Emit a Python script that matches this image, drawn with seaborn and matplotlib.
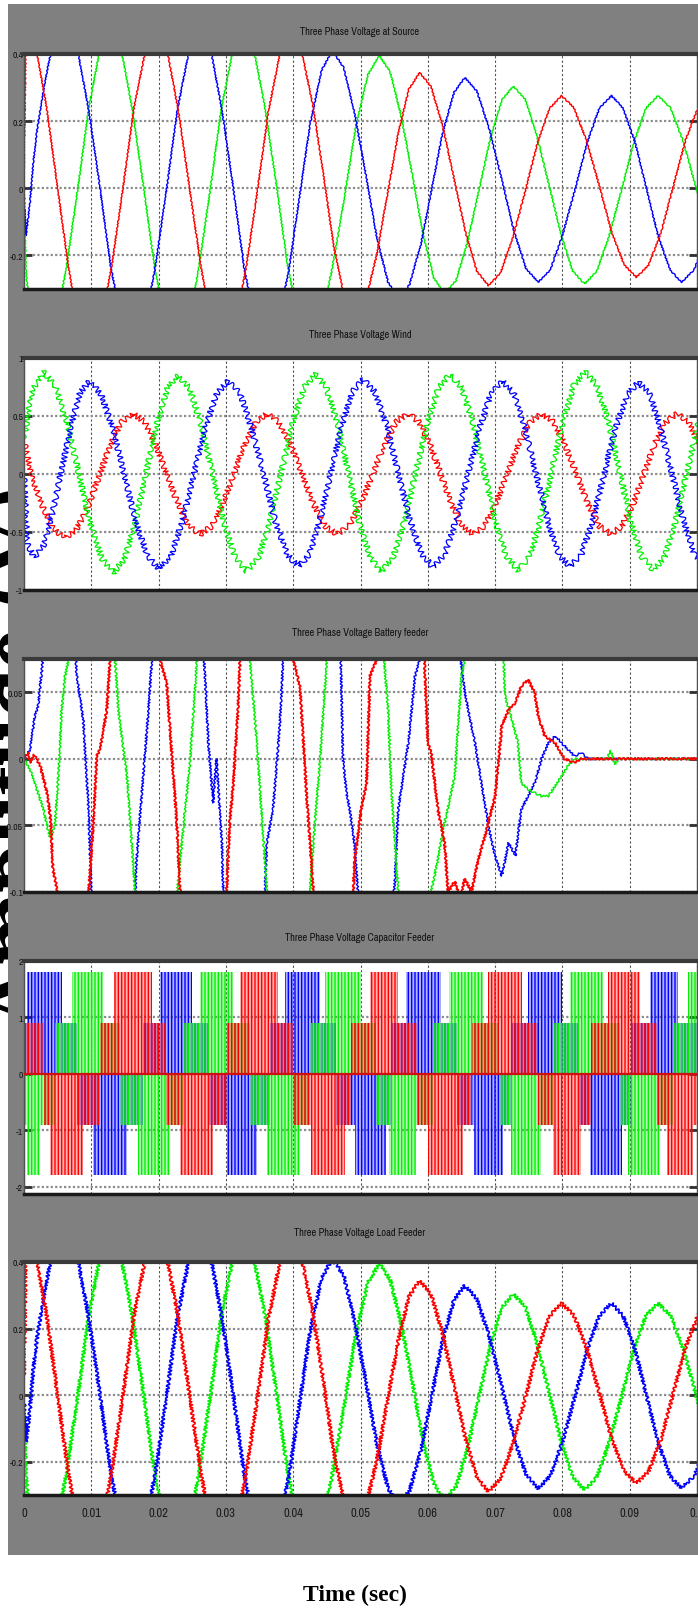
import numpy as np
import pandas as pd
import matplotlib
matplotlib.use("Agg")
import matplotlib.pyplot as plt
import seaborn as sns
from matplotlib.patches import Rectangle
from matplotlib.colors import to_rgba
from matplotlib import font_manager as fm

# ---------------- data ----------------
# Panel 1: Three Phase Voltage at Source (also Load Feeder, which reads the same)
src_red_t = [0, 0.0003, 0.0019, 0.0034, 0.005, 0.0066, 0.0081, 0.0097,
             0.0114, 0.013, 0.0147, 0.0163, 0.018, 0.0196,
             0.0213, 0.0229, 0.0246, 0.0263, 0.0279, 0.0296,
             0.0313, 0.033, 0.0347, 0.0363, 0.038, 0.0397,
             0.0413, 0.0429, 0.0445, 0.046, 0.0476, 0.0492,
             0.0508, 0.0524, 0.054, 0.0556, 0.0572, 0.0588,
             0.0605, 0.0622, 0.0639, 0.0656, 0.0673, 0.069,
             0.0708, 0.0726, 0.0745, 0.0763, 0.0781, 0.0799,
             0.0817, 0.0836, 0.0855, 0.0873, 0.0892, 0.091,
             0.0928, 0.0947, 0.0965, 0.0983, 0.1002, 0.102]
src_red_v = [0.06, 0.47, 0.407, 0.235, 0, -0.235, -0.407, -0.47,
             -0.407, -0.235, 0, 0.235, 0.407, 0.47,
             0.407, 0.235, 0, -0.235, -0.407, -0.47,
             -0.408, -0.238, -0.005, 0.228, 0.398, 0.46,
             0.404, 0.25, 0.04, -0.17, -0.324, -0.38,
             -0.331, -0.199, -0.018, 0.164, 0.296, 0.345,
             0.302, 0.186, 0.028, -0.131, -0.247, -0.29,
             -0.252, -0.149, -0.007, 0.135, 0.238, 0.276,
             0.240, 0.141, 0.006, -0.130, -0.229, -0.265,
             -0.229, -0.129, 0.008, 0.144, 0.243, 0.28]
src_blue_t = [0, 0.0003, 0.0009, 0.0014, 0.0019, 0.0026, 0.0031, 0.0039, 0.0052, 0.0063,
              0.008, 0.0096, 0.0113, 0.0129, 0.0146, 0.0162,
              0.0179, 0.0195, 0.0212, 0.0228, 0.0245, 0.0261,
              0.0278, 0.0294, 0.0311, 0.0327, 0.0344, 0.036,
              0.0376, 0.0393, 0.0409, 0.0425, 0.0442, 0.0458,
              0.0475, 0.0491, 0.0508, 0.0524, 0.0541, 0.0557,
              0.0573, 0.059, 0.0606, 0.0622, 0.0639, 0.0655,
              0.0673, 0.0691, 0.071, 0.0728, 0.0746, 0.0764,
              0.0782, 0.08, 0.0819, 0.0837, 0.0855, 0.0873,
              0.089, 0.0908, 0.0925, 0.0942, 0.096, 0.0977,
              0.0996, 0.1015]
src_blue_v = [-0.02, -0.14, -0.04, 0.08, 0.167, 0.256, 0.316, 0.395, 0.46, 0.47,
              0.407, 0.235, 0, -0.235, -0.407, -0.47,
              -0.407, -0.235, 0, 0.235, 0.407, 0.47,
              0.407, 0.235, 0, -0.235, -0.407, -0.47,
              -0.411, -0.25, -0.03, 0.19, 0.351, 0.41,
              0.36, 0.225, 0.04, -0.145, -0.28, -0.33,
              -0.286, -0.165, 0, 0.165, 0.286, 0.33,
              0.289, 0.178, 0.025, -0.128, -0.239, -0.28,
              -0.243, -0.141, -0.002, 0.137, 0.239, 0.276,
              0.239, 0.137, -0.002, -0.141, -0.243, -0.28,
              -0.242, -0.14]
src_green_t = [0, 0.0003, 0.0006, 0.0031,
               0.0047, 0.0063, 0.008, 0.0096, 0.0112, 0.0128,
               0.0145, 0.0161, 0.0178, 0.0194, 0.0211, 0.0227,
               0.0244, 0.026, 0.0277, 0.0293, 0.031, 0.0326,
               0.0342, 0.0358, 0.0375, 0.0391, 0.0407, 0.0423,
               0.0441, 0.0458, 0.0476, 0.0493, 0.0511, 0.0528,
               0.0544, 0.056, 0.0577, 0.0593, 0.0609, 0.0625,
               0.0642, 0.0659, 0.0676, 0.0693, 0.071, 0.0727,
               0.0745, 0.0762, 0.078, 0.0798, 0.0815, 0.0833,
               0.0851, 0.0869, 0.0888, 0.0906, 0.0924, 0.0942,
               0.0961, 0.098, 0.0999, 0.1017]
src_green_v = [-0.02, -0.25, -0.31, -0.47,
               -0.407, -0.235, 0, 0.235, 0.407, 0.47,
               0.407, 0.235, 0, -0.235, -0.407, -0.47,
               -0.407, -0.235, 0, 0.235, 0.407, 0.47,
               0.408, 0.24, 0.01, -0.22, -0.388, -0.45,
               -0.393, -0.239, -0.028, 0.184, 0.338, 0.395,
               0.347, 0.218, 0.04, -0.138, -0.267, -0.315,
               -0.274, -0.16, -0.006, 0.149, 0.263, 0.304,
               0.265, 0.157, 0.01, -0.138, -0.246, -0.285,
               -0.247, -0.145, -0.005, 0.136, 0.238, 0.276,
               0.239, 0.137, -0.002, -0.141]

# Panel 2: Three Phase Voltage Wind
wind_green_t = [0, 0.0012, 0.0029,
                0.0046, 0.0064, 0.0081, 0.0098, 0.0116, 0.0133,
                0.0149, 0.0165, 0.0181, 0.0197, 0.0213, 0.0229,
                0.0246, 0.0263, 0.028, 0.0297, 0.0314, 0.0331,
                0.0348, 0.0365, 0.0382, 0.0399, 0.0416, 0.0433,
                0.0449, 0.0466, 0.0482, 0.0498, 0.0515, 0.0531,
                0.0548, 0.0565, 0.0582, 0.0599, 0.0616, 0.0633,
                0.065, 0.0667, 0.0684, 0.07, 0.0717, 0.0734,
                0.0751, 0.0767, 0.0784, 0.0801, 0.0817, 0.0834,
                0.0851, 0.0868, 0.0885, 0.0901, 0.0918, 0.0935,
                0.0952, 0.0968, 0.0985, 0.1002, 0.1018]
wind_green_v = [0.3, 0.72, 0.88,
                0.764, 0.448, 0.015, -0.418, -0.734, -0.85,
                -0.736, -0.425, 0, 0.425, 0.736, 0.85,
                0.737, 0.428, 0.005, -0.418, -0.727, -0.84,
                -0.726, -0.415, 0.01, 0.435, 0.746, 0.86,
                0.746, 0.435, 0.01, -0.415, -0.726, -0.84,
                -0.726, -0.415, 0.01, 0.435, 0.746, 0.86,
                0.747, 0.438, 0.015, -0.408, -0.717, -0.83,
                -0.715, -0.403, 0.025, 0.453, 0.765, 0.88,
                0.765, 0.453, 0.025, -0.403, -0.715, -0.83,
                -0.717, -0.408, 0.015, 0.438, 0.747]
wind_blue_t = [0, 0.0005, 0.0015,
               0.0029, 0.0042, 0.0056, 0.007, 0.0083, 0.0097,
               0.0114, 0.0132, 0.0149, 0.0166, 0.0184, 0.0201,
               0.0218, 0.0235, 0.0252, 0.0269, 0.0286, 0.0303,
               0.0321, 0.0338, 0.0356, 0.0373, 0.0391, 0.0408,
               0.0424, 0.044, 0.0456, 0.0472, 0.0488, 0.0504,
               0.0521, 0.0539, 0.0556, 0.0573, 0.0591, 0.0608,
               0.0625, 0.0642, 0.066, 0.0677, 0.0694, 0.0711,
               0.0728, 0.0744, 0.0761, 0.0778, 0.0794, 0.0811,
               0.0828, 0.0845, 0.0862, 0.0879, 0.0896, 0.0913,
               0.093, 0.0946, 0.0963, 0.098, 0.0996, 0.1013]
wind_blue_v = [0, -0.6, -0.72,
               -0.618, -0.34, 0.04, 0.42, 0.698, 0.8,
               0.691, 0.395, -0.01, -0.415, -0.711, -0.82,
               -0.711, -0.415, -0.01, 0.395, 0.691, 0.8,
               0.693, 0.4, 0, -0.4, -0.693, -0.8,
               -0.691, -0.395, 0.01, 0.415, 0.711, 0.82,
               0.711, 0.415, 0.01, -0.395, -0.691, -0.8,
               -0.693, -0.4, 0, 0.4, 0.693, 0.8,
               0.693, 0.4, 0, -0.4, -0.693, -0.8,
               -0.693, -0.403, -0.005, 0.393, 0.683, 0.79,
               0.683, 0.393, -0.005, -0.403, -0.693, -0.8]
wind_red_t = [0, 0.0011, 0.0028, 0.0044, 0.0061,
              0.0078, 0.0095, 0.0112, 0.0128, 0.0145, 0.0162,
              0.0179, 0.0195, 0.0212, 0.0229, 0.0245, 0.0262,
              0.0279, 0.0295, 0.0312, 0.0328, 0.0345, 0.0361,
              0.0378, 0.0396, 0.0413, 0.043, 0.0448, 0.0465,
              0.0483, 0.05, 0.0518, 0.0536, 0.0553, 0.0571,
              0.0587, 0.0603, 0.0619, 0.0635, 0.0651, 0.0667,
              0.0684, 0.0701, 0.0718, 0.0735, 0.0752, 0.0769,
              0.0786, 0.0803, 0.0821, 0.0838, 0.0855, 0.0872,
              0.0888, 0.0905, 0.0921, 0.0937, 0.0954, 0.097,
              0.0987, 0.1004]
wind_red_v = [0.29, -0.015, -0.283, -0.478, -0.55,
              -0.478, -0.283, -0.015, 0.253, 0.448, 0.52,
              0.45, 0.26, 0, -0.26, -0.45, -0.52,
              -0.45, -0.26, 0, 0.26, 0.45, 0.52,
              0.45, 0.26, 0, -0.26, -0.45, -0.52,
              -0.45, -0.26, 0, 0.26, 0.45, 0.52,
              0.45, 0.26, 0, -0.26, -0.45, -0.52,
              -0.45, -0.26, 0, 0.26, 0.45, 0.52,
              0.45, 0.26, 0, -0.26, -0.45, -0.52,
              -0.45, -0.26, 0, 0.26, 0.45, 0.52,
              0.45, 0.26]

# Panel 3: Three Phase Voltage Battery feeder
bat_blue_t = [0, 0.0009, 0.0016, 0.0021, 0.0026, 0.0031, 0.005, 0.0068, 0.0078, 0.0088,
              0.0096, 0.01, 0.012, 0.0162, 0.0167, 0.0177, 0.0185, 0.019, 0.022, 0.0266,
              0.0274, 0.0281, 0.0286, 0.0294, 0.0296, 0.032, 0.0356, 0.0361, 0.037, 0.038,
              0.0385, 0.042, 0.047, 0.0474, 0.0479, 0.0484, 0.0491, 0.0496, 0.052, 0.0551,
              0.0556, 0.0571, 0.0581, 0.0588, 0.061, 0.0645, 0.0655, 0.067, 0.069, 0.07,
              0.071, 0.072, 0.073, 0.0739, 0.0749, 0.0759, 0.0769, 0.0779, 0.0789, 0.0799,
              0.0808, 0.0818, 0.0828, 0.0838, 0.1]
bat_blue_v = [0, 0.007, 0.032, 0.04, 0.064, 0.09, 0.25, 0.2, 0.0645, 0.0295,
              -0.038, -0.1, -0.25, -0.15, -0.078, -0.013, 0.037, 0.0745, 0.25, 0.09,
              0.012, -0.033, 0, -0.063, -0.1, -0.25, -0.12, -0.063, -0.038, 0.0245,
              0.0745, 0.25, 0.09, 0, -0.025, -0.038, -0.063, -0.1, -0.25, -0.093,
              -0.038, 0.012, 0.062, 0.0745, 0.25, 0.09, 0.0495, 0.012, -0.05, -0.073,
              -0.088, -0.063, -0.073, -0.038, -0.028, -0.018, 0, 0.012, 0.017, 0.012,
              0.007, 0.002, 0.0045, 0, 0]
bat_red_t = [0, 0.0006, 0.0009, 0.0015, 0.0024, 0.0034, 0.0039, 0.0041, 0.0043, 0.005,
             0.007, 0.0093, 0.0096, 0.0103, 0.0108, 0.0113, 0.0123, 0.0128, 0.015, 0.0198,
             0.0202, 0.0212, 0.0222, 0.0227, 0.0232, 0.026, 0.0298, 0.0301, 0.0306, 0.0311,
             0.0318, 0.0321, 0.036, 0.0397, 0.04, 0.041, 0.042, 0.0425, 0.043, 0.046,
             0.0488, 0.0491, 0.0501, 0.0509, 0.0514, 0.0524, 0.056, 0.0592, 0.0595, 0.06,
             0.0605, 0.0615, 0.0625, 0.063, 0.064, 0.0648, 0.0655, 0.0665, 0.0675, 0.0685,
             0.07, 0.071, 0.072, 0.073, 0.0739, 0.0749, 0.0759, 0.0764, 0.0774, 0.0789,
             0.0803, 0.0818, 0.0828, 0.1]
bat_red_v = [0, 0.005, -0.003, 0.003, -0.005, -0.025, -0.043, -0.063, -0.083, -0.1,
             -0.25, -0.15, -0.1, -0.048, 0.002, 0.007, 0.037, 0.0745, 0.25, 0.12,
             0.0745, 0.057, -0.013, -0.048, -0.1, -0.25, -0.12, -0.1, -0.0455, -0.018,
             0.037, 0.0745, 0.25, 0.12, 0.0745, 0.0545, -0.028, -0.063, -0.1, -0.25,
             -0.12, -0.078, -0.038, -0.018, 0.062, 0.0745, 0.25, 0.12, 0.0745, 0.012,
             0.0045, -0.038, -0.063, -0.1, -0.092, -0.105, -0.09, -0.1, -0.0755, -0.058,
             -0.028, 0.0245, 0.037, 0.042, 0.0545, 0.0595, 0.0495, 0.032, 0.017, 0.012,
             0, -0.003, 0, 0]
bat_green_t = [0, 0.0009, 0.0019, 0.0029, 0.0034, 0.0039, 0.0046, 0.0051, 0.0056, 0.0061,
               0.0066, 0.009, 0.013, 0.014, 0.0153, 0.016, 0.0165, 0.019, 0.0224, 0.0237,
               0.0247, 0.0257, 0.029, 0.0328, 0.0346, 0.0356, 0.0361, 0.039, 0.0422, 0.0432,
               0.044, 0.045, 0.049, 0.0528, 0.0541, 0.0546, 0.0551, 0.0556, 0.0575, 0.0595,
               0.061, 0.0625, 0.064, 0.065, 0.0655, 0.068, 0.0708, 0.0715, 0.0725, 0.0734,
               0.0739, 0.0749, 0.0759, 0.0769, 0.0779, 0.0789, 0.0799, 0.0808, 0.0818, 0.0866,
               0.0872, 0.0878, 0.0884, 0.1]
bat_green_v = [0, -0.008, -0.023, -0.038, -0.05, -0.06, -0.05, -0.013, 0.037, 0.062,
               0.0745, 0.25, 0.12, 0.037, -0.013, -0.063, -0.1, -0.25, -0.12, -0.05,
               0, 0.0745, 0.25, 0.12, 0.012, -0.063, -0.1, -0.25, -0.12, -0.05,
               0, 0.0745, 0.25, 0.12, 0.037, -0.025, -0.063, -0.1, -0.25, -0.12,
               -0.088, -0.048, -0.013, 0.062, 0.0745, 0.25, 0.12, 0.047, 0.0295, 0.012,
               -0.018, -0.023, -0.0255, -0.028, -0.028, -0.0205, -0.013, -0.0055, 0, 0,
               0.006, -0.004, 0, 0]

# Panel 4: Three Phase Voltage Capacitor Feeder (PWM switching bands, start/end times)
cap_level_mid = 0.9
cap_level_hi = 1.8
cap_blue_hi = [(0.0004, 0.0056), (0.0202, 0.0249), (0.0388, 0.044), (0.0568, 0.062), (0.0749, 0.0799), (0.093, 0.0972)]
cap_blue_lo = [(0.0103, 0.0153), (0.0301, 0.0346), (0.0492, 0.0538), (0.0668, 0.0711), (0.0841, 0.0888)]
cap_blue_pos = [(0, 0.0079), (0.0177, 0.0275), (0.0365, 0.0463), (0.0545, 0.0643), (0.0725, 0.0823), (0.0902, 0.1)]
cap_blue_neg = [(0.0079, 0.0177), (0.0275, 0.0365), (0.0463, 0.0545), (0.0643, 0.0725), (0.0823, 0.0902)]
cap_green_hi = [(0.0071, 0.0118), (0.0262, 0.0311), (0.0447, 0.0501), (0.0632, 0.0682), (0.0811, 0.086), (0.0987, 0.1)]
cap_green_lo = [(0.0004, 0.0024), (0.017, 0.0217), (0.0361, 0.041), (0.0543, 0.0583), (0.0724, 0.0768), (0.0898, 0.0945)]
cap_green_pos = [(0.0046, 0.0143), (0.0238, 0.0336), (0.0425, 0.0523), (0.0608, 0.0706), (0.0787, 0.0885), (0.0965, 0.1)]
cap_green_neg = [(0, 0.0046), (0.0143, 0.0238), (0.0336, 0.0425), (0.0523, 0.0608), (0.0706, 0.0787), (0.0885, 0.0965)]
cap_red_hi = [(0.0133, 0.019), (0.0321, 0.0378), (0.0514, 0.0556), (0.069, 0.074), (0.0868, 0.0915)]
cap_red_lo = [(0.0039, 0.0088), (0.0232, 0.0281), (0.0427, 0.0477), (0.0601, 0.0652), (0.0786, 0.0828), (0.0955, 0.0994)]
cap_red_pos = [(0, 0.003), (0.0113, 0.0211), (0.0301, 0.0399), (0.0486, 0.0584), (0.0666, 0.0764), (0.0843, 0.0941)]
cap_red_neg = [(0.003, 0.0113), (0.0211, 0.0301), (0.0399, 0.0486), (0.0584, 0.0666), (0.0764, 0.0843), (0.0941, 0.1)]

# Load feeder reads identical to the source within reading accuracy
load_red_t, load_red_v = src_red_t, src_red_v
load_blue_t, load_blue_v = src_blue_t, src_blue_v
load_green_t, load_green_v = src_green_t, src_green_v

titles = ["Three Phase Voltage at Source", "Three Phase Voltage Wind",
          "Three Phase Voltage Battery feeder", "Three Phase Voltage Capacitor Feeder",
          "Three Phase Voltage Load Feeder"]
ylims = [(-0.3, 0.4), (-1, 1), (-0.1, 0.075), (-2.13, 2.0), (-0.3, 0.4)]
yticks = [[-0.2, 0, 0.2, 0.4], [-1, -0.5, 0, 0.5, 1], [-0.1, -0.05, 0, 0.05],
          [-2, -1, 0, 1, 2], [-0.2, 0, 0.2, 0.4]]
yticklabels = [["-0.2", "0", "0.2", "0.4"], ["-1", "-0.5", "0", "0.5", "1"],
               ["-0.1", "-0.05", "0", "0.05"], ["-2", "-1", "0", "1", "2"],
               ["-0.2", "0", "0.2", "0.4"]]
xticks = [0, 0.01, 0.02, 0.03, 0.04, 0.05, 0.06, 0.07, 0.08, 0.09, 0.1]
xticklabels = ["0", "0.01", "0.02", "0.03", "0.04", "0.05", "0.06", "0.07", "0.08", "0.09", "0.1"]

RED, GREEN, BLUE = "#ff0000", "#00f000", "#0000ff"

# ---------------- fonts: look for a narrow sans face ----------------
def find_narrow():
    rank = {"ultra-condensed": 0, "extra-condensed": 1, "condensed": 2, "semi-condensed": 3}
    best = None
    for f in fm.fontManager.ttflist:
        nm = f.name
        if any(k in nm for k in ("Mono", "Serif", "CJK", "Math")):
            continue
        if f.style != "normal":
            continue
        try:
            w = int(f.weight)
        except Exception:
            w = {"normal": 400, "regular": 400, "book": 400, "medium": 500}.get(str(f.weight), 700)
        if w < 350 or w > 500:
            continue
        st = str(f.stretch)
        if "Narrow" in nm:
            r = 1
        elif "Extra Condensed" in nm or "ExtraCondensed" in nm:
            r = 1
        elif "Condensed" in nm:
            r = 2
        elif st in rank:
            r = rank[st]
        else:
            continue
        if best is None or r < best[0]:
            best = (r, f.fname)
    return best


narrow = find_narrow()
if narrow is not None:
    SANS = fm.FontProperties(fname=narrow[1])
    k = 1.0
else:
    SANS = fm.FontProperties(family=["Liberation Sans", "DejaVu Sans"])
    k = 0.85


def fp(size):
    p = SANS.copy()
    p.set_size(size)
    return p


# ---------------- layout ----------------
W, H = 698, 1615
sns.set_style("white")
plt.rcParams["font.family"] = ["Liberation Sans", "DejaVu Sans"]
plt.rcParams["hatch.linewidth"] = 1.0

fig = plt.figure(figsize=(W / 100, H / 100), dpi=100)
fig.patch.set_facecolor("white")

# big axis label, mostly hidden behind the grey scope frame as in the reference
fig.text(42 / W, 1 - 757 / H, "Amplitude (V)", rotation=90, rotation_mode="anchor",
         ha="center", va="baseline", fontsize=63, fontweight="bold",
         family=["Liberation Serif", "DejaVu Serif"], color="black", zorder=0.2)
fig.add_artist(Rectangle((8 / W, 1 - 1556 / H), 690 / W, 1551 / H, transform=fig.transFigure,
                         facecolor="#808080", edgecolor="none", zorder=0.5))

panel_px = [(55, 290), (359, 591), (660, 893), (962, 1195), (1263, 1496)]
title_y = [32, 335, 633, 938, 1233]


def style_axes(ax, i):
    ax.set_zorder(1)
    ax.set_facecolor("white")
    ax.set_xlim(0, 0.1)
    ax.set_ylim(*ylims[i])
    ax.set_xticks(xticks)
    ax.set_yticks(yticks[i])
    ax.set_yticklabels(yticklabels[i])
    ax.set_xlabel("")
    ax.set_ylabel("")
    ax.set_axisbelow(True)
    ax.grid(True, axis="x", color="#505050", lw=0.8, ls=(0, (2, 2)))
    ax.grid(True, axis="y", color="#8c8c8c", lw=1.6, ls=(0, (1, 1)))
    ax.tick_params(axis="y", direction="in", length=6, width=2, color="#303030",
                   left=True, right=True, labelcolor="#151515", pad=0.5)
    for lbl in ax.get_yticklabels():
        lbl.set_fontproperties(fp(7.0 * k))
    if i == 4:
        ax.set_xticklabels(xticklabels)
        ax.tick_params(axis="x", length=0, labelbottom=True, labelcolor="#1a1a1a", pad=9)
        for lbl in ax.get_xticklabels():
            lbl.set_fontproperties(fp(9.0 * k))
    else:
        ax.tick_params(axis="x", length=0, labelbottom=False)
    ax.spines["top"].set(color="#3a3a3a", lw=3)
    ax.spines["bottom"].set(color="#1a1a1a", lw=2.5)
    ax.spines["left"].set(color="#505050", lw=1)
    ax.spines["right"].set(color="#505050", lw=1)


def draw_lines(ax, series, lw, sketch):
    for t, v, color in series:
        df = pd.DataFrame({"t": t, "v": v})
        sns.lineplot(data=df, x="t", y="v", color=color, lw=lw, sort=False,
                     estimator=None, ax=ax, legend=False)
        ln = ax.lines[-1]
        ln.set_solid_joinstyle("round")
        if sketch is not None:
            ln.set_sketch_params(*sketch)


def draw_blocks(ax, spans, bottom, height, color, alpha):
    starts = [a for a, b in spans]
    widths = [b - a for a, b in spans]
    ax.bar(starts, [height] * len(spans), width=widths, bottom=bottom, align="edge",
           facecolor=to_rgba(color, alpha), edgecolor=color, linewidth=0, hatch="|||||")


axes = []
for i, (top, bot) in enumerate(panel_px):
    ax = fig.add_axes([24 / W, 1 - bot / H, 673 / W, (bot - top) / H])
    axes.append(ax)
    fig.text(360 / W, 1 - title_y[i] / H, titles[i], ha="center", va="center",
             fontproperties=fp(7.5 * k), color="#111111", zorder=3)

# Panel 1
draw_lines(axes[0], [(src_green_t, src_green_v, GREEN), (src_blue_t, src_blue_v, BLUE),
                     (src_red_t, src_red_v, RED)], 1.0, (0.6, 4, 2))
# Panel 2
draw_lines(axes[1], [(wind_red_t, wind_red_v, RED), (wind_green_t, wind_green_v, GREEN),
                     (wind_blue_t, wind_blue_v, BLUE)], 0.9, (2.8, 7, 3))
# Panel 3
draw_lines(axes[2], [(bat_blue_t, bat_blue_v, BLUE), (bat_green_t, bat_green_v, GREEN),
                     (bat_red_t, bat_red_v, RED)], 1.0, (1.0, 4, 2))
axes[2].lines[-1].set_linewidth(1.3)
# Panel 4
ax4 = axes[3]
for color, hi, lo, pos, neg in [(BLUE, cap_blue_hi, cap_blue_lo, cap_blue_pos, cap_blue_neg),
                                (GREEN, cap_green_hi, cap_green_lo, cap_green_pos, cap_green_neg),
                                (RED, cap_red_hi, cap_red_lo, cap_red_pos, cap_red_neg)]:
    draw_blocks(ax4, pos, 0, cap_level_mid, color, 0.3)
    draw_blocks(ax4, neg, 0, -cap_level_mid, color, 0.3)
    draw_blocks(ax4, hi, cap_level_mid, cap_level_hi - cap_level_mid, color, 0.3)
    draw_blocks(ax4, lo, -cap_level_mid, -(cap_level_hi - cap_level_mid), color, 0.3)
ax4.axhline(0, color="#d01010", lw=1.6, zorder=3)
# Panel 5
draw_lines(axes[4], [(load_green_t, load_green_v, GREEN), (load_blue_t, load_blue_v, BLUE),
                     (load_red_t, load_red_v, RED)], 1.2, (1.6, 4, 2))

for i, ax in enumerate(axes):
    style_axes(ax, i)

fig.text(355 / W, 1 - 1595 / H, "Time (sec)", ha="center", va="center", fontsize=17,
         fontweight="bold", family=["Liberation Serif", "DejaVu Serif"], color="black")

fig.savefig("out.png", dpi=100, facecolor="white")
